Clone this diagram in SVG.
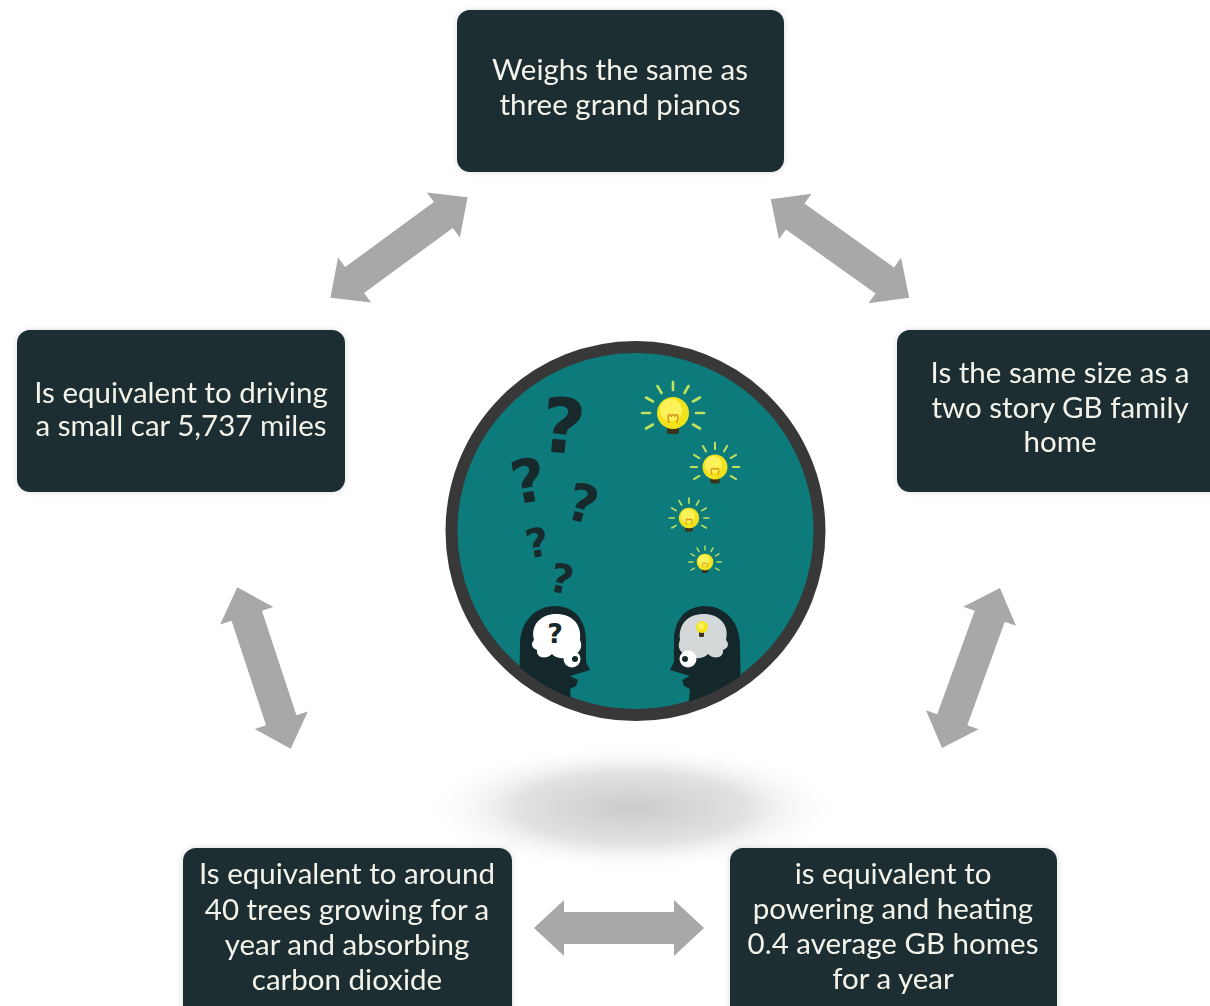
<svg xmlns="http://www.w3.org/2000/svg" width="1210" height="1006" viewBox="0 0 1210 1006">
  <style>
    .box { fill: #1a2d31; }
    .label { font-family: Lato, "Open Sans", "Liberation Sans", sans-serif; font-size: 29.5px; fill: #f4f3ea; text-anchor: middle; }
    .arrow { fill: #a7a9a9; }
    .qm { font-family: "DejaVu Sans", "Liberation Sans", sans-serif; font-weight: bold; fill: #18292c; text-anchor: middle; }
    .ray { stroke: #bfe35c; stroke-width: 2.6; stroke-linecap: round; }
    .head { fill: #14272b; }
  </style>
  <defs>
    <radialGradient id="floorShadow" cx="0.5" cy="0.5" r="0.5">
      <stop offset="0" stop-color="#cbcbcb"/>
      <stop offset="0.55" stop-color="#e2e2e2"/>
      <stop offset="1" stop-color="#ffffff" stop-opacity="0"/>
    </radialGradient>
    <filter id="boxShadow" x="-10%" y="-10%" width="120%" height="120%">
      <feDropShadow dx="0" dy="0" stdDeviation="3" flood-color="#000" flood-opacity="0.15"/>
    </filter>
    <clipPath id="disc">
      <circle cx="635.5" cy="531" r="179"/>
    </clipPath>
    <!-- double-headed arrow along the x axis, 170 long -->
    <path id="dblArrow" d="M -85 0 L -55 -28 L -55 -16 L 55 -16 L 55 -28 L 85 0 L 55 28 L 55 16 L -55 16 L -55 28 Z"/>
    <!-- light bulb with rays, radius 16 -->
    <g id="bulb">
      <g class="ray">
        <line x1="-23" y1="0" x2="-31" y2="0"/>
        <line x1="-20" y1="-11.5" x2="-27" y2="-15.5"/>
        <line x1="-11.5" y1="-20" x2="-15.5" y2="-27"/>
        <line x1="0" y1="-23" x2="0" y2="-31"/>
        <line x1="11.5" y1="-20" x2="15.5" y2="-27"/>
        <line x1="20" y1="-11.5" x2="27" y2="-15.5"/>
        <line x1="23" y1="0" x2="31" y2="0"/>
        <line x1="20" y1="11.5" x2="27" y2="15.5"/>
        <line x1="-20" y1="11.5" x2="-27" y2="15.5"/>
      </g>
      <rect x="-6" y="12" width="12" height="9" rx="2" fill="#3a3318"/>
      <circle cx="0" cy="0" r="16" fill="#f2e21c"/>
      <circle cx="-2" cy="-3" r="11" fill="#fbf25a"/>
      <path d="M -4 10 L -5 4 C -5 1 -2 1 -2 4 C -2 1 2 1 2 4 C 2 1 5 1 5 4 L 4 10" fill="none" stroke="#d69a1a" stroke-width="1.6"/>
    </g>
    <path id="headShape" d="M 519 710 L 520 645 C 520 621 536 606 555 606 C 574 606 586 620 586 640 L 586 662 L 590 670 L 580 673 L 570 676 L 578 680 L 576 686 L 570 689 L 572 710 Z"/>
  </defs>

  <!-- floor shadow under the central disc -->
  <ellipse cx="632" cy="808" rx="210" ry="65" fill="url(#floorShadow)"/>

  <!-- connectors -->
  <g id="connectors">
    <use href="#dblArrow" class="arrow" transform="translate(399 247.5) rotate(-36.2)"/>
    <use href="#dblArrow" class="arrow" transform="translate(840 248.5) rotate(35.5)"/>
    <use href="#dblArrow" class="arrow" transform="translate(264 668) rotate(71.7)"/>
    <use href="#dblArrow" class="arrow" transform="translate(971 668) rotate(109.9)"/>
    <use href="#dblArrow" class="arrow" transform="translate(619 928)"/>
  </g>

  <!-- central picture -->
  <g id="center-disc">
    <circle cx="635.5" cy="531" r="184" fill="#0d7b7c" stroke="#383838" stroke-width="12"/>
    <g clip-path="url(#disc)">
      <!-- question marks drifting up from the puzzled head -->
      <text class="qm" x="563" y="453" font-size="76" transform="rotate(6 563 425)">?</text>
      <text class="qm" x="528" y="502" font-size="60" transform="rotate(-10 528 480)">?</text>
      <text class="qm" x="583" y="522" font-size="52" transform="rotate(14 583 503)">?</text>
      <text class="qm" x="537" y="557" font-size="40" transform="rotate(-10 537 542)">?</text>
      <text class="qm" x="562" y="593" font-size="40" transform="rotate(12 562 578)">?</text>

      <!-- bulbs drifting up from the inspired head -->
      <use href="#bulb" transform="translate(673 413)"/>
      <use href="#bulb" transform="translate(715 467) scale(0.78)"/>
      <use href="#bulb" transform="translate(689 518) scale(0.64)"/>
      <use href="#bulb" transform="translate(705 562) scale(0.52)"/>

      <!-- puzzled head (facing right) -->
      <use href="#headShape" class="head"/>
      <path d="M 534 640 C 530 624 542 614 556 614 C 572 614 582 624 580 640 C 584 648 578 656 570 654 C 566 660 556 659 552 654 C 546 660 536 658 537 650 C 531 648 531 643 534 640 Z" fill="#ffffff"/>
      <text class="qm" x="555" y="643" font-size="27">?</text>
      <circle cx="572" cy="659" r="8.5" fill="#ffffff"/>
      <circle cx="575" cy="659" r="3" fill="#14272b"/>

      <!-- inspired head (facing left) -->
      <use href="#headShape" class="head" transform="translate(1260 0) scale(-1 1)"/>
      <path d="M 726 640 C 730 624 718 614 704 614 C 688 614 678 624 680 640 C 676 648 682 656 690 654 C 694 660 704 659 708 654 C 714 660 724 658 723 650 C 729 648 729 643 726 640 Z" fill="#d5d8d8"/>
      <rect x="699" y="632" width="5" height="5" rx="1" fill="#3a3318"/>
      <circle cx="702" cy="627" r="6" fill="#f5e21a"/>
      <circle cx="701" cy="626" r="3.5" fill="#fbf25a"/>
      <circle cx="688" cy="659" r="8.5" fill="#ffffff"/>
      <circle cx="685" cy="659" r="3" fill="#14272b"/>
    </g>
  </g>

  <!-- nodes -->
  <g id="node-pianos" filter="url(#boxShadow)">
    <rect class="box" x="457" y="10" width="327" height="162" rx="13"/>
    <text class="label" x="620" y="80">Weighs the same as</text>
    <text class="label" x="620" y="115">three grand pianos</text>
  </g>

  <g id="node-car" filter="url(#boxShadow)">
    <rect class="box" x="17" y="330" width="328" height="162" rx="13"/>
    <text class="label" x="181" y="403">Is equivalent to driving</text>
    <text class="label" x="181" y="436">a small car 5,737 miles</text>
  </g>

  <g id="node-home" filter="url(#boxShadow)">
    <rect class="box" x="897" y="330" width="330" height="162" rx="13"/>
    <text class="label" x="1060" y="383">Is the same size as a</text>
    <text class="label" x="1060" y="418">two story GB family</text>
    <text class="label" x="1060" y="452">home</text>
  </g>

  <g id="node-trees" filter="url(#boxShadow)">
    <rect class="box" x="183" y="848" width="329" height="175" rx="13"/>
    <text class="label" x="347" y="884">Is equivalent to around</text>
    <text class="label" x="347" y="920">40 trees growing for a</text>
    <text class="label" x="347" y="955">year and absorbing</text>
    <text class="label" x="347" y="990">carbon dioxide</text>
  </g>

  <g id="node-homes" filter="url(#boxShadow)">
    <rect class="box" x="730" y="848" width="327" height="175" rx="13"/>
    <text class="label" x="893" y="884">is equivalent to</text>
    <text class="label" x="893" y="919">powering and heating</text>
    <text class="label" x="893" y="954">0.4 average GB homes</text>
    <text class="label" x="893" y="989">for a year</text>
  </g>
</svg>
